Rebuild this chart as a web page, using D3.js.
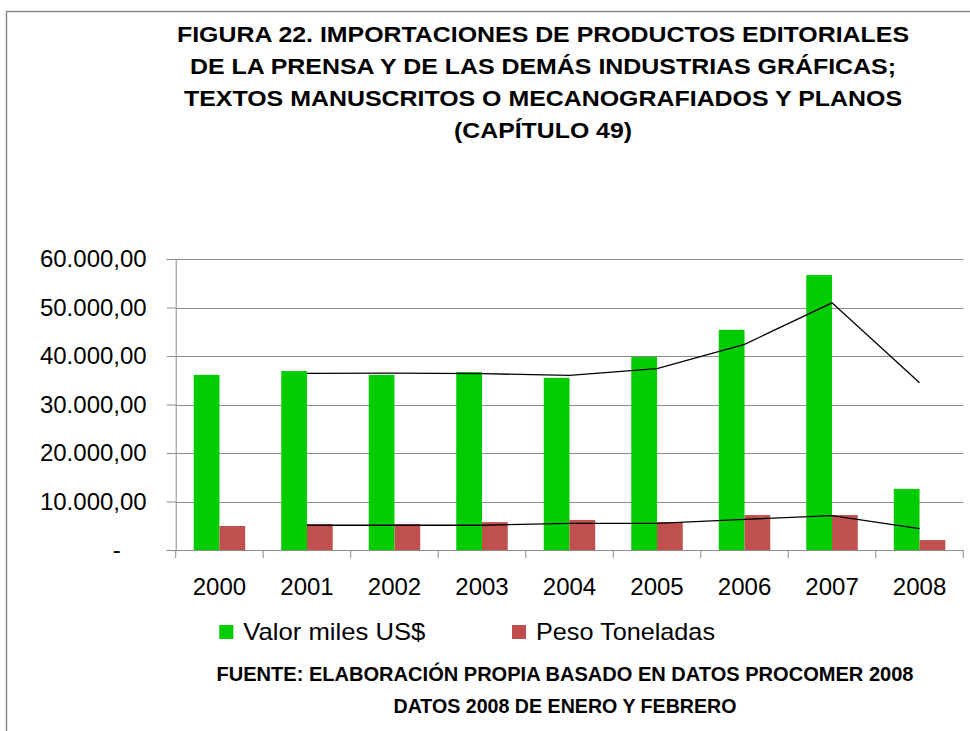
<!DOCTYPE html>
<html>
<head>
<meta charset="utf-8">
<script src="https://cdn.jsdelivr.net/npm/d3@7"></script>
<style>
  html, body { margin: 0; padding: 0; background: #fff; }
  svg { display: block; font-family: "Liberation Sans", Arial, sans-serif; }
</style>
</head>
<body>
<svg id="chart" width="970" height="731"></svg>
<script>
// ---- data ----
const years = ["2000", "2001", "2002", "2003", "2004", "2005", "2006", "2007", "2008"];
const valorMiles = [36100, 36900, 36100, 36700, 35500, 39800, 45400, 56700, 12600];
const pesoToneladas = [4950, 5350, 5350, 5750, 6200, 5750, 7200, 7200, 2050];
const trendYears = ["2001", "2002", "2003", "2004", "2005", "2006", "2007", "2008"];
const trendValor = [36400, 36450, 36350, 36000, 37400, 42400, 50950, 34500];
const trendPeso = [5100, 5100, 5100, 5500, 5500, 6330, 7080, 4400];
const yTicks = [0, 10000, 20000, 30000, 40000, 50000, 60000];
const seriesNames = ["Valor miles US$", "Peso Toneladas"];
const seriesColors = ["#00CC00", "#C0504D"];
const titleLines = [
  "FIGURA 22. IMPORTACIONES DE PRODUCTOS EDITORIALES",
  "DE LA PRENSA Y DE LAS DEMÁS INDUSTRIAS GRÁFICAS;",
  "TEXTOS MANUSCRITOS O MECANOGRAFIADOS Y PLANOS",
  "(CAPÍTULO 49)"
];
const footerLines = [
  "FUENTE: ELABORACIÓN PROPIA BASADO EN DATOS PROCOMER 2008",
  "DATOS 2008 DE ENERO Y FEBRERO"
];

(function () {
// ---- layout ----
const svg = d3.select("#chart");
const pLeft = 175.7, pRight = 963.3, pTop = 259, pBottom = 550;

// outer frame
svg.append("rect").attr("x", 6.5).attr("y", 11.5).attr("width", 1000).attr("height", 1000)
  .attr("fill", "#fff").attr("stroke", "#8a8a8a").attr("stroke-width", 1.5);

// title
const titleY = [41.7, 73.5, 105.7, 138];
const titleW = [732, 706, 718, 178];
const titleCx = 543;
svg.append("g").selectAll("text").data(titleLines).join("text")
  .attr("x", titleCx).attr("y", (d, i) => titleY[i])
  .attr("text-anchor", "middle")
  .attr("font-size", 22.5).attr("font-weight", "bold").attr("fill", "#000")
  .attr("textLength", (d, i) => titleW[i]).attr("lengthAdjust", "spacingAndGlyphs")
  .text(d => d);

// scales
const x = d3.scaleBand().domain(years).range([pLeft, pRight]).padding(0);
const xs = d3.scaleBand().domain(seriesNames).range([0, x.bandwidth()])
  .paddingInner(0).paddingOuter(0.7);
const y = d3.scaleLinear().domain([0, 60000]).range([pBottom, pTop]);

const fmtLocale = d3.formatLocale({ decimal: ",", thousands: ".", grouping: [3], currency: ["$", ""] });
const fmt = fmtLocale.format(",.2f");

// gridlines
svg.append("g").selectAll("line").data(yTicks.filter(v => v > 0)).join("line")
  .attr("x1", pLeft).attr("x2", pRight)
  .attr("y1", d => Math.round(y(d)) + 0.5).attr("y2", d => Math.round(y(d)) + 0.5)
  .attr("stroke", "#8c8c8c").attr("stroke-width", 1);

// bars
const barData = [];
years.forEach((yr, i) => {
  barData.push({ year: yr, s: seriesNames[0], v: valorMiles[i], c: seriesColors[0] });
  barData.push({ year: yr, s: seriesNames[1], v: pesoToneladas[i], c: seriesColors[1] });
});
svg.append("g").selectAll("rect").data(barData).join("rect")
  .attr("x", d => x(d.year) + xs(d.s))
  .attr("width", xs.bandwidth())
  .attr("y", d => y(d.v))
  .attr("height", d => y(0) - y(d.v))
  .attr("fill", d => d.c);

// trend lines
const line = d3.line()
  .x(d => x(d[0]) + x.bandwidth() / 2)
  .y(d => y(d[1]));
[trendValor, trendPeso].forEach(arr => {
  svg.append("path")
    .datum(trendYears.map((yr, i) => [yr, arr[i]]))
    .attr("d", line)
    .attr("fill", "none").attr("stroke", "#000").attr("stroke-width", 1.3);
});

// y axis
const yAxis = svg.append("g").attr("transform", `translate(${pLeft},0)`)
  .call(d3.axisLeft(y).tickValues(yTicks).tickSize(9).tickPadding(20)
    .tickFormat(v => v === 0 ? "-" : fmt(v)));
yAxis.select(".domain").attr("stroke", "#8c8c8c");
yAxis.selectAll(".tick line").attr("stroke", "#8c8c8c");
yAxis.selectAll(".tick text").attr("font-size", 24).attr("fill", "#000")
  .attr("font-family", "'Liberation Sans', Arial, sans-serif")
  .filter(d => d === 0).attr("x", -55);

// x axis
const xAxis = svg.append("g").attr("transform", `translate(0,${pBottom})`)
  .call(d3.axisBottom(x).tickSize(0).tickPadding(28));
xAxis.select(".domain").attr("stroke", "#8c8c8c");
xAxis.selectAll(".tick text").attr("font-size", 24).attr("fill", "#000")
  .attr("font-family", "'Liberation Sans', Arial, sans-serif");
const bounds = years.map(d => x(d)).concat([x(years[years.length - 1]) + x.bandwidth()]);
xAxis.append("g").selectAll("line").data(bounds).join("line")
  .attr("x1", d => d).attr("x2", d => d).attr("y1", 0).attr("y2", 8)
  .attr("stroke", "#8c8c8c");

// legend
const legendX = [219.3, 512];
const legendTextW = [182, 179];
const lg = svg.append("g").selectAll("g").data(seriesNames).join("g");
lg.append("rect").attr("x", (d, i) => legendX[i]).attr("y", 625)
  .attr("width", 14).attr("height", 14).attr("fill", (d, i) => seriesColors[i]);
lg.append("text").attr("x", (d, i) => legendX[i] + 24).attr("y", 639.5)
  .attr("font-size", 24).attr("fill", "#000")
  .attr("textLength", (d, i) => legendTextW[i]).attr("lengthAdjust", "spacingAndGlyphs")
  .text(d => d);

// footer
const footY = [680.5, 713];
const footW = [697, 343];
svg.append("g").selectAll("text").data(footerLines).join("text")
  .attr("x", 565).attr("y", (d, i) => footY[i])
  .attr("text-anchor", "middle")
  .attr("font-size", 20.5).attr("font-weight", "bold").attr("fill", "#000")
  .attr("textLength", (d, i) => footW[i]).attr("lengthAdjust", "spacingAndGlyphs")
  .text(d => d);
})();
</script>
</body>
</html>
